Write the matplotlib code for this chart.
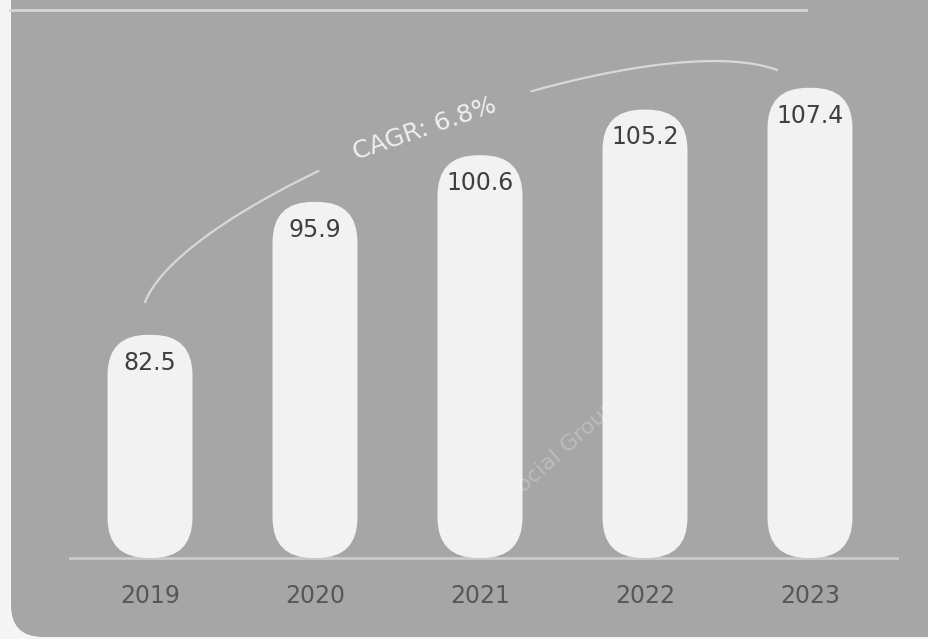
import numpy as np
import matplotlib.pyplot as plt
from matplotlib.patches import FancyBboxPatch
from matplotlib.lines import Line2D
from matplotlib.transforms import IdentityTransform

# data
years = ['2019', '2020', '2021', '2022', '2023']
values = [82.5, 95.9, 100.6, 105.2, 107.4]
cagr_label = 'CAGR: 6.8%'
watermark = 'Meetsocial Group'

panel_color = '#a6a6a6'
bar_color = '#f2f2f2'
text_color = '#3f3f3f'
tick_color = '#575757'

fig = plt.figure(figsize=(9.29, 6.39), dpi=100, facecolor='#f5f5f5')

# gray panel with rounded bottom-left corner (pixel coordinates)
panel = FancyBboxPatch((11, 2), 1000, 700, boxstyle='round,pad=0,rounding_size=32',
                       transform=IdentityTransform(), facecolor=panel_color,
                       edgecolor='none', zorder=-5)
fig.patches.append(panel)

# top rule
fig.add_artist(Line2D([10 / 929, 806 / 929], [1 - 10 / 639] * 2, color='#d6d6d6',
                      lw=2, transform=fig.transFigure))

base = 60
ax = fig.add_axes([0, (639 - 558) / 639, 1, 558 / 639])
ax.set_facecolor('none')
ax.set_xlim(-150 / 165, (929 - 150) / 165)
ax.set_ylim(base, base + 558 / 9.92)
for s in ax.spines.values():
    s.set_visible(False)
ax.set_yticks([])

x = np.arange(len(years))
heights = np.array(values) - base
bars = ax.bar(x, heights, bottom=base, width=0.515, color='none')

# px per data unit, used to keep corners circular
aspect = 165 / 9.92
for b in bars:
    patch = FancyBboxPatch((b.get_x(), b.get_y()), b.get_width(), b.get_height(),
                           boxstyle='round,pad=0,rounding_size=0.245',
                           mutation_aspect=aspect, facecolor=bar_color,
                           edgecolor='none', zorder=2, clip_on=False)
    ax.add_patch(patch)
    b.remove()

for xi, v in zip(x, values):
    ax.annotate(f'{v}', (xi, v), xytext=(0, -20), textcoords='offset points',
                ha='center', va='center', fontsize=17, color=text_color, zorder=3)

# baseline
ax.axhline(base, xmin=70 / 929, xmax=897 / 929, color='#cbcbcb', lw=2, zorder=1,
           clip_on=False)

ax.set_xticks(x)
ax.set_xticklabels(years, fontsize=17, color=tick_color)
ax.tick_params(axis='x', length=0, pad=19)

# CAGR arc (cubic bezier from above first bar to above last bar)
p0 = np.array([-0.03, 85.8])
p1 = np.array([0.24, 97.1])
p2 = np.array([2.97, 114.2])
p3 = np.array([3.8, 109.2])
t = np.linspace(0, 1, 300)[:, None]
curve = ((1 - t) ** 3) * p0 + 3 * ((1 - t) ** 2) * t * p1 + 3 * (1 - t) * t ** 2 * p2 + t ** 3 * p3
left = curve[curve[:, 0] < 1.03]
right = curve[curve[:, 0] > 2.31]
for seg in (left, right):
    ax.plot(seg[:, 0], seg[:, 1], color='#d8d8d8', lw=1.6, zorder=1, clip_on=False)

ax.text(1.667, 103.2, cagr_label, rotation=19, rotation_mode='anchor',
        ha='center', va='center', fontsize=18, color='#efefef', zorder=3)

ax.text(2.38, 69.0, watermark, rotation=42, rotation_mode='anchor',
        ha='center', va='center', fontsize=16, color='#ffffff', alpha=0.25, zorder=4)

fig.savefig('out.png', dpi=100, facecolor=fig.get_facecolor())
